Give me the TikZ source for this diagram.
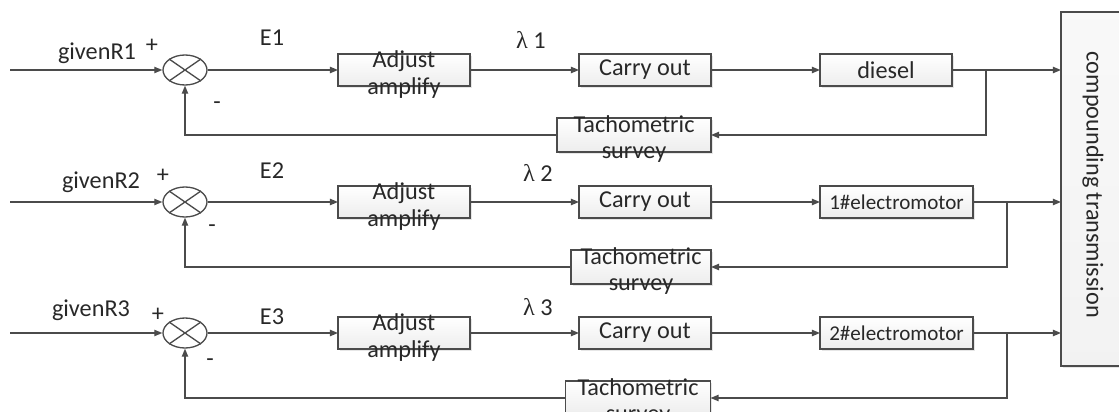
\documentclass[tikz,border=0pt]{standalone}
\usepackage{fontspec}
\setmainfont{Carlito}
\newfontfamily\greekfont{Liberation Serif}
\usepackage{tikz}
\usetikzlibrary{shapes.geometric, positioning, arrows.meta, shadows}
\definecolor{wiregray}{RGB}{75, 75, 75}
\definecolor{textgray}{RGB}{40, 40, 40}

\newcommand{\bigfont}{\fontsize{13.8}{14}\selectfont}
\newcommand{\smallfont}{\fontsize{12}{14}\selectfont}

\begin{document}
\begin{tikzpicture}[
        x=0.02cm, y=-0.02cm,
        >={Triangle[length=4.6pt, width=3.6pt]},
        % Connectors of all three loops
        wire/.style={draw=wiregray, line width=0.75pt},
        % Shaded blocks with a soft shadow
        block/.style={
            draw=wiregray,
            line width=0.75pt,
            top color=white,
            bottom color=gray!14,
            drop shadow={shadow xshift=1pt, shadow yshift=-1pt, opacity=0.2},
            minimum height=0.64cm,
            inner sep=0pt,
            outer sep=0pt,
            text=textgray,
            font=\bigfont
        },
        % Two-line captions laid over a block
        boxtext/.style={
            inner sep=0pt,
            text=textgray,
            align=center,
            font=\bigfont
        },
        % Summing point
        junction/.style={
            ellipse,
            draw=wiregray,
            line width=0.75pt,
            fill=white,
            minimum width=0.88cm,
            minimum height=0.6cm,
            inner sep=0pt
        },
        % Signal names and signs
        tag/.style={inner sep=0pt, text=textgray, font=\bigfont}
    ]

    \useasboundingbox (0,0) rectangle (1119,412);

    % 1. Gearbox shared by the three drives
    \node (cmp) [block, anchor=north west, minimum width=1.28cm, minimum height=7.08cm,
        top color=gray!5, bottom color=gray!10] at (1061,12) {};
    \node (cmpT) [tag, rotate=-90, xshift=-2.3pt] at (cmp.center) {compounding transmission};

    % 2. One speed loop per row
    \foreach \i/\y/\plant/\pfont/\pwd/\brx/\twd/\tcx in {
        1/70/diesel/\bigfont/2.64/986/3.08/634,
        2/202/1\#electromotor/\smallfont/3.06/1007/2.80/641,
        3/333/2\#electromotor/\smallfont/3.06/1007/2.90/638} {
        \coordinate (in\i) at (10,\y);
        \node (sum\i) [junction] at (185,\y) {};
        \draw[wire] (sum\i.north west) -- (sum\i.south east)
                    (sum\i.north east) -- (sum\i.south west);
        \node (adj\i) [block, minimum width=2.64cm] at (404,\y) {};
        \node (adjT\i) [boxtext, yshift=-2.6pt] at (adj\i) {Adjust\\[1pt]amplify};
        \node (run\i) [block, minimum width=2.64cm] at (645,\y) {Carry out};
        \node (plant\i) [block, minimum width=\pwd cm, anchor=west] at (820,\y) {\pfont\plant};
        \node (tacho\i) [block, minimum width=\twd cm, minimum height=0.68cm] at (\tcx,\y+65) {};
        \node (tachoT\i) [boxtext, yshift=-2.4pt] at (tacho\i) {Tachometric\\[1pt]survey};
        \coordinate (br\i) at (\brx,\y);

        % forward path
        \draw[wire, ->] (in\i) -- (sum\i.west);
        \draw[wire, ->] (sum\i.east) -- (adj\i.west);
        \draw[wire, ->] (adj\i.east) -- (run\i.west);
        \draw[wire, ->] (run\i.east) -- (plant\i.west);
        \draw[wire, ->] (plant\i.east) -- (plant\i.east -| cmp.west);

        % speed feedback
        \draw[wire, ->] (br\i) |- (tacho\i.east);
        \draw[wire, ->] (tacho\i.west) -| (sum\i.south);
    }

    % 3. Signal names
    \node (ref1) [tag] at (97,53) {givenR1};
    \node (pos1) [tag] at (152,46) {+};
    \node (neg1) [tag] at (217,106) {-};
    \node (err1) [tag] at (272,38) {E1};
    \node (lam1) [tag] at (531,40) {{\greekfont λ} 1};

    \node (ref2) [tag] at (101,182) {givenR2};
    \node (pos2) [tag] at (163,176) {+};
    \node (neg2) [tag] at (212,229) {-};
    \node (err2) [tag] at (272,171) {E2};
    \node (lam2) [tag] at (538,173) {{\greekfont λ} 2};

    \node (ref3) [tag] at (91,310) {givenR3};
    \node (pos3) [tag] at (158,315) {+};
    \node (neg3) [tag] at (210,363) {-};
    \node (err3) [tag] at (272,317) {E3};
    \node (lam3) [tag] at (538,307) {{\greekfont λ} 3};

\end{tikzpicture}
\end{document}
